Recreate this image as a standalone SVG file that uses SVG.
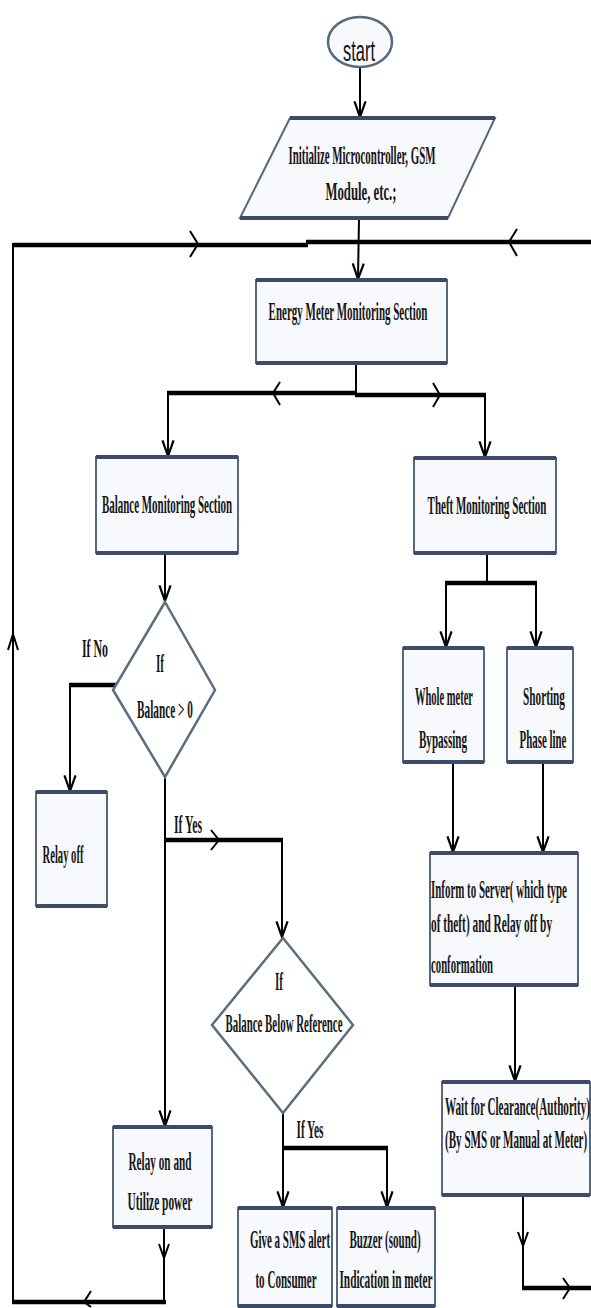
<svg xmlns="http://www.w3.org/2000/svg" width="591" height="1308" viewBox="0 0 591 1308">
<style>
.box{fill:#f7f9fc;stroke:#55687c;stroke-width:2}
.edge{stroke:#3d4a68;stroke-width:4}
.dia{fill:#ffffff;stroke:#5a6e80;stroke-width:2.5}
.ln{fill:none;stroke:#000;stroke-width:2}
.thick{fill:none;stroke:#000;stroke-width:4.5}
.chev{fill:none;stroke:#000;stroke-width:2}
text{font-family:"Liberation Serif","Times New Roman",serif;font-size:25px;font-weight:bold;fill:#151515;text-anchor:middle}
.st{font-family:"Liberation Sans",Arial,sans-serif;font-weight:normal;font-size:30px}
.lt{text-anchor:start}
</style>
<defs>
<marker id="arr" markerUnits="userSpaceOnUse" markerWidth="20" markerHeight="20" viewBox="-16 -8 18 16" refX="0" refY="0" orient="auto">
<path d="M-14,-5 L0,0 L-14,5" fill="none" stroke="#000" stroke-width="2"/>
</marker>
</defs>
<rect width="591" height="1308" fill="#ffffff"/>

<g id="connectors">
<line class="ln" x1="360" y1="67" x2="360" y2="117" marker-end="url(#arr)"/>
<line class="ln" x1="359" y1="218" x2="358" y2="279" marker-end="url(#arr)"/>
<line class="thick" x1="13" y1="245" x2="308" y2="245"/>
<line class="thick" x1="306" y1="242" x2="591" y2="242"/>
<polyline class="chev" points="190,231 198,244 190,257"/>
<polyline class="chev" points="517,229 509,242 517,256"/>
<line class="ln" x1="13" y1="243" x2="13" y2="1304"/>
<polyline class="chev" points="8,650 13,634 18,650"/>
<line class="ln" x1="356" y1="363" x2="356" y2="394"/>
<line class="thick" x1="167" y1="393" x2="357" y2="393"/>
<line class="thick" x1="355" y1="395" x2="486" y2="395"/>
<polyline class="chev" points="280,382 273,393 280,405"/>
<polyline class="chev" points="433,383 440,395 433,407"/>
<line class="ln" x1="168" y1="393" x2="168" y2="456" marker-end="url(#arr)"/>
<line class="ln" x1="485" y1="395" x2="485" y2="457" marker-end="url(#arr)"/>
<line class="ln" x1="165" y1="553" x2="165" y2="601" marker-end="url(#arr)"/>
<line class="thick" x1="69" y1="685" x2="118" y2="685"/>
<line class="ln" x1="70" y1="685" x2="70" y2="791" marker-end="url(#arr)"/>
<line class="ln" x1="165" y1="777" x2="165" y2="1126" marker-end="url(#arr)"/>
<line class="thick" x1="165" y1="840" x2="283" y2="840"/>
<polyline class="chev" points="211,830 219,840 211,850"/>
<line class="ln" x1="282" y1="840" x2="282" y2="937" marker-end="url(#arr)"/>
<line class="ln" x1="283" y1="1113" x2="283" y2="1207" marker-end="url(#arr)"/>
<line class="thick" x1="283" y1="1148" x2="388" y2="1148"/>
<line class="ln" x1="387" y1="1148" x2="387" y2="1207" marker-end="url(#arr)"/>
<line class="ln" x1="164" y1="1227" x2="164" y2="1302"/>
<polyline class="chev" points="159,1244 164,1258 169,1244"/>
<line class="thick" x1="12" y1="1302" x2="166" y2="1302"/>
<polyline class="chev" points="91,1291 84,1302 91,1307"/>
<line class="ln" x1="487" y1="553" x2="487" y2="584"/>
<line class="thick" x1="445" y1="583" x2="537" y2="583"/>
<line class="ln" x1="446" y1="583" x2="446" y2="647" marker-end="url(#arr)"/>
<line class="ln" x1="536" y1="583" x2="536" y2="647" marker-end="url(#arr)"/>
<line class="ln" x1="453" y1="762" x2="453" y2="852" marker-end="url(#arr)"/>
<line class="ln" x1="543" y1="762" x2="543" y2="852" marker-end="url(#arr)"/>
<line class="ln" x1="515" y1="985" x2="515" y2="1081" marker-end="url(#arr)"/>
<line class="ln" x1="523" y1="1195" x2="523" y2="1289"/>
<polyline class="chev" points="518,1232 523,1246 528,1232"/>
<line class="thick" x1="522" y1="1288" x2="591" y2="1288"/>
<polyline class="chev" points="563,1278 570,1288 563,1299"/>
</g>

<g id="start">
<ellipse cx="360" cy="42" rx="32" ry="25" fill="#f7f9fc" stroke="#55687c" stroke-width="2.5"/>
<text class="st" transform="translate(359,61) scale(0.55,1)" textLength="58" lengthAdjust="spacingAndGlyphs">start</text>
</g>

<g id="init">
<polygon class="box" points="290,118 495,118 448,218 240,218"/>
<line class="edge" x1="290" y1="118" x2="495" y2="118"/>
<line class="edge" x1="240" y1="218" x2="448" y2="218"/>
<text transform="translate(362,164) scale(0.45,1)" textLength="327" lengthAdjust="spacingAndGlyphs">Initialize Microcontroller, GSM</text>
<text transform="translate(361,200) scale(0.45,1)" textLength="158" lengthAdjust="spacingAndGlyphs">Module, etc.;</text>
</g>

<g id="energy">
<rect class="box" x="256" y="280" width="191" height="83"/>
<line class="edge" x1="256" y1="280" x2="447" y2="280"/>
<line class="edge" x1="256" y1="363" x2="447" y2="363"/>
<text transform="translate(348,320) scale(0.45,1)" textLength="353" lengthAdjust="spacingAndGlyphs">Energy Meter Monitoring Section</text>
</g>

<g id="balance">
<rect class="box" x="96" y="457" width="142" height="96"/>
<line class="edge" x1="96" y1="457" x2="238" y2="457"/>
<line class="edge" x1="96" y1="553" x2="238" y2="553"/>
<text transform="translate(167,513) scale(0.45,1)" textLength="289" lengthAdjust="spacingAndGlyphs">Balance Monitoring Section</text>
</g>

<g id="theft">
<rect class="box" x="414" y="458" width="142" height="95"/>
<line class="edge" x1="414" y1="458" x2="556" y2="458"/>
<line class="edge" x1="414" y1="553" x2="556" y2="553"/>
<text transform="translate(487,514) scale(0.45,1)" textLength="264" lengthAdjust="spacingAndGlyphs">Theft Monitoring Section</text>
</g>

<g id="dec1">
<polygon class="dia" points="165,602 215,690 165,777 113,690"/>
<text transform="translate(160,672) scale(0.45,1)" textLength="18" lengthAdjust="spacingAndGlyphs">If</text>
<text transform="translate(165,718) scale(0.45,1)" textLength="124" lengthAdjust="spacingAndGlyphs">Balance &gt; 0</text>
</g>

<g id="label-no">
<text transform="translate(95,657) scale(0.45,1)" textLength="58" lengthAdjust="spacingAndGlyphs">If No</text>
</g>
<g id="label-yes1">
<text transform="translate(188,833) scale(0.45,1)" textLength="62" lengthAdjust="spacingAndGlyphs">If Yes</text>
</g>

<g id="relayoff">
<rect class="box" x="36" y="792" width="71" height="114"/>
<line class="edge" x1="36" y1="792" x2="107" y2="792"/>
<line class="edge" x1="36" y1="906" x2="107" y2="906"/>
<text transform="translate(63,863) scale(0.45,1)" textLength="91" lengthAdjust="spacingAndGlyphs">Relay off</text>
</g>

<g id="dec2">
<polygon class="dia" points="283,938 353,1025 283,1113 212,1025"/>
<text transform="translate(279,990) scale(0.45,1)" textLength="18" lengthAdjust="spacingAndGlyphs">If</text>
<text transform="translate(284,1032) scale(0.45,1)" textLength="260" lengthAdjust="spacingAndGlyphs">Balance Below Reference</text>
</g>

<g id="label-yes2">
<text transform="translate(310,1138) scale(0.45,1)" textLength="60" lengthAdjust="spacingAndGlyphs">If Yes</text>
</g>

<g id="relayon">
<rect class="box" x="113" y="1127" width="99" height="100"/>
<line class="edge" x1="113" y1="1127" x2="212" y2="1127"/>
<line class="edge" x1="113" y1="1227" x2="212" y2="1227"/>
<text transform="translate(160,1170) scale(0.45,1)" textLength="140" lengthAdjust="spacingAndGlyphs">Relay on and</text>
<text transform="translate(160,1210) scale(0.45,1)" textLength="144" lengthAdjust="spacingAndGlyphs">Utilize power</text>
</g>

<g id="sms">
<rect class="box" x="238" y="1208" width="94" height="98"/>
<line class="edge" x1="238" y1="1208" x2="332" y2="1208"/>
<line class="edge" x1="238" y1="1306" x2="332" y2="1306"/>
<text transform="translate(290,1248) scale(0.45,1)" textLength="178" lengthAdjust="spacingAndGlyphs">Give a SMS alert</text>
<text transform="translate(286,1288) scale(0.45,1)" textLength="136" lengthAdjust="spacingAndGlyphs">to Consumer</text>
</g>

<g id="buzzer">
<rect class="box" x="337" y="1208" width="98" height="98"/>
<line class="edge" x1="337" y1="1208" x2="435" y2="1208"/>
<line class="edge" x1="337" y1="1306" x2="435" y2="1306"/>
<text transform="translate(385,1248) scale(0.45,1)" textLength="158" lengthAdjust="spacingAndGlyphs">Buzzer (sound)</text>
<text transform="translate(386,1288) scale(0.45,1)" textLength="207" lengthAdjust="spacingAndGlyphs">Indication in meter</text>
</g>

<g id="whole">
<rect class="box" x="403" y="648" width="81" height="114"/>
<line class="edge" x1="403" y1="648" x2="484" y2="648"/>
<line class="edge" x1="403" y1="762" x2="484" y2="762"/>
<text transform="translate(444,705) scale(0.45,1)" textLength="129" lengthAdjust="spacingAndGlyphs">Whole meter</text>
<text transform="translate(443,748) scale(0.45,1)" textLength="107" lengthAdjust="spacingAndGlyphs">Bypassing</text>
</g>

<g id="shorting">
<rect class="box" x="507" y="648" width="66" height="114"/>
<line class="edge" x1="507" y1="648" x2="573" y2="648"/>
<line class="edge" x1="507" y1="762" x2="573" y2="762"/>
<text transform="translate(544,705) scale(0.45,1)" textLength="93" lengthAdjust="spacingAndGlyphs">Shorting</text>
<text transform="translate(543,748) scale(0.45,1)" textLength="104" lengthAdjust="spacingAndGlyphs">Phase line</text>
</g>

<g id="inform">
<rect class="box" x="430" y="853" width="148" height="132"/>
<line class="edge" x1="430" y1="853" x2="578" y2="853"/>
<line class="edge" x1="430" y1="985" x2="578" y2="985"/>
<text class="lt" transform="translate(431,898) scale(0.45,1)" textLength="302" lengthAdjust="spacingAndGlyphs">Inform to Server( which type</text>
<text class="lt" transform="translate(431,932) scale(0.45,1)" textLength="269" lengthAdjust="spacingAndGlyphs">of theft) and Relay off  by</text>
<text class="lt" transform="translate(431,973) scale(0.45,1)" textLength="138" lengthAdjust="spacingAndGlyphs">conformation</text>
</g>

<g id="wait">
<rect class="box" x="442" y="1082" width="148" height="113"/>
<line class="edge" x1="442" y1="1082" x2="590" y2="1082"/>
<line class="edge" x1="442" y1="1195" x2="590" y2="1195"/>
<text class="lt" transform="translate(445,1115) scale(0.45,1)" textLength="322" lengthAdjust="spacingAndGlyphs">Wait for Clearance(Authority)</text>
<text class="lt" transform="translate(445,1148) scale(0.45,1)" textLength="316" lengthAdjust="spacingAndGlyphs">(By SMS or Manual at Meter)</text>
</g>
</svg>
